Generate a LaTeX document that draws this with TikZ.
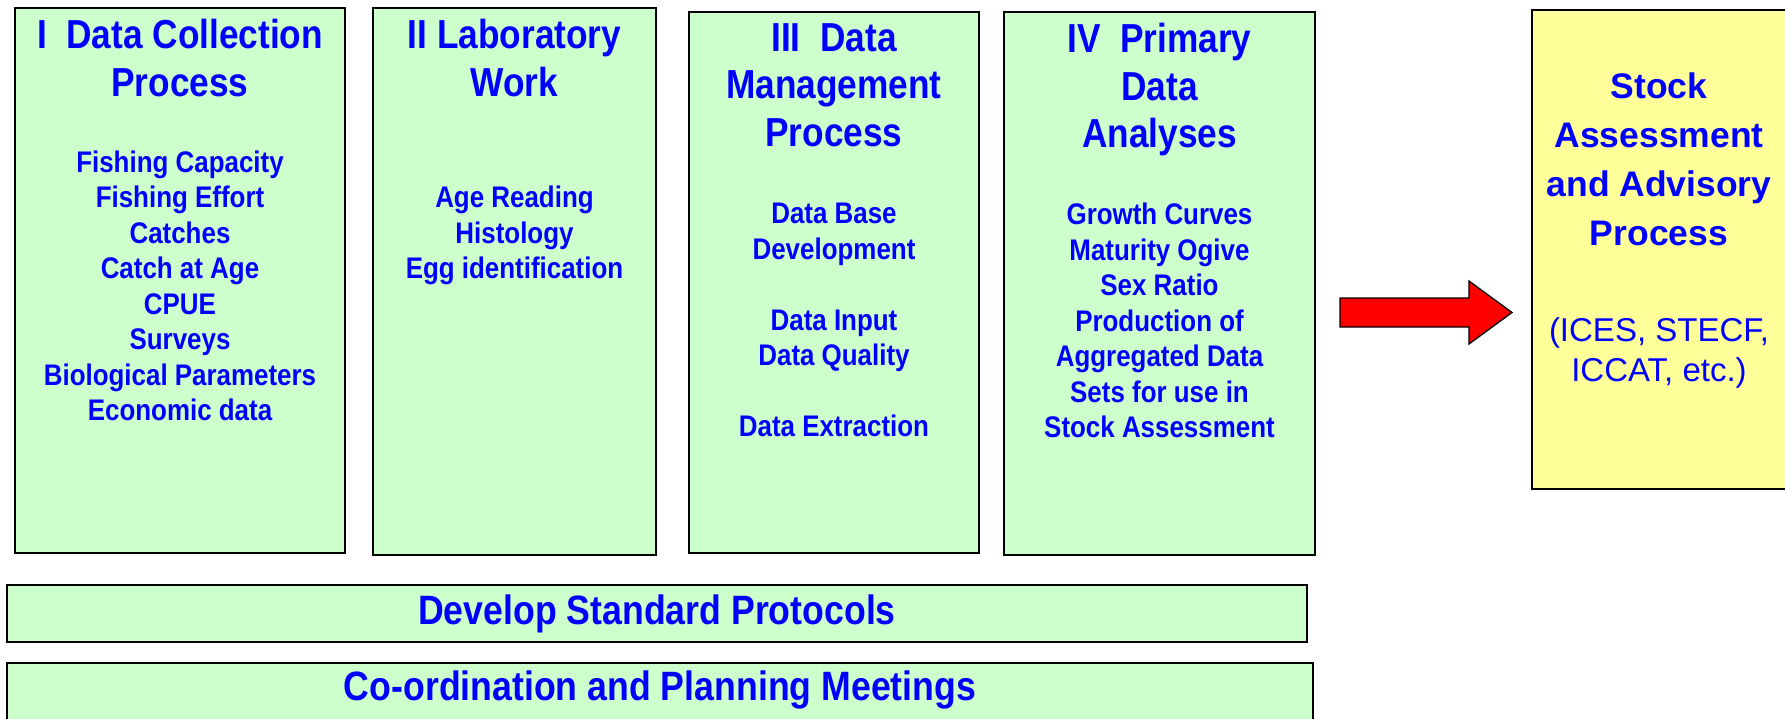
\documentclass[tikz,border=0pt]{standalone}
\usepackage{fontspec}
\setmainfont{Liberation Sans}
\newfontfamily\narrowsf[FakeStretch=0.87]{Liberation Sans}
\usepackage{tikz}

\definecolor{boxgreen}{HTML}{CCFFCC}
\definecolor{boxyellow}{HTML}{FFFF99}
\definecolor{textblue}{HTML}{0000FF}

\begin{document}
\begin{tikzpicture}[
  x=1pt, y=-1pt,
  every node/.style={align=center, text=textblue},
  stagebox/.style={rectangle, draw=black, line width=1.3pt, fill=boxgreen, inner sep=0pt},
  advicebox/.style={stagebox, fill=boxyellow},
  headtext/.style={inner sep=0pt, anchor=north, execute at begin node=\strut,
    font=\narrowsf\bfseries\fontsize{40.5}{47.6}\selectfont},
  listtext/.style={headtext, font=\narrowsf\bfseries\fontsize{29.8}{35.5}\selectfont},
  bartext/.style={headtext, font=\narrowsf\bfseries\fontsize{41}{49}\selectfont},
  advicehead/.style={headtext, font=\bfseries\fontsize{35.5}{49}\selectfont},
  advicetext/.style={headtext, font=\fontsize{33}{40}\selectfont},
  flowarrow/.style={draw=black, line width=1.3pt, fill=red, line join=miter}
]
\useasboundingbox (0,0) rectangle (1785,719);

% the four stages
\node[stagebox, minimum width=330pt, minimum height=545pt] (collect) at (180,280.5) {};
\node[stagebox, minimum width=283pt, minimum height=547pt] (lab) at (514.5,281.5) {};
\node[stagebox, minimum width=290pt, minimum height=541pt] (manage) at (834,282.5) {};
\node[stagebox, minimum width=311pt, minimum height=543pt] (analyse) at (1159.5,283.5) {};

\node[headtext] (collect-head) at (180,19.4) {I\ \ Data Collection\\Process};
\node[listtext] (collect-list) at (180,150.6) {Fishing Capacity\\Fishing Effort\\Catches\\Catch at Age\\CPUE\\Surveys\\Biological Parameters\\Economic data};

\node[headtext] (lab-head) at (514.5,19.4) {II Laboratory\\Work};
\node[listtext] (lab-list) at (514.5,186.1) {Age Reading\\Histology\\Egg identification};

\node[headtext] (manage-head) at (834,23.2) {III\ \ Data\\Management\\Process};
\node[listtext] (manage-list) at (834,203.1) {Data Base\\Development\\[35.5pt]Data Input\\Data Quality\\[35.5pt]Data Extraction};

\node[headtext] (analyse-head) at (1159.5,23.2) {IV\ \ Primary\\Data\\Analyses};
\node[listtext] (analyse-list) at (1159.5,203.1) {Growth Curves\\Maturity Ogive\\Sex Ratio\\Production of\\Aggregated Data\\Sets for use in\\Stock Assessment};

% assessment
\node[advicebox, minimum width=256pt, minimum height=479pt] (advice) at (1660,249.5) {};
\node[advicehead] (advice-head) at (1659,73) {Stock\\Assessment\\and Advisory\\Process};
\node[advicetext] (advice-list) at (1659,317) {(ICES, STECF,\\ICCAT, etc.)};

% block arrow towards the assessment
\coordinate (flow-tail) at (1340,312.5);
\coordinate (flow-tip) at (1512,312.5);
\draw[flowarrow] (flow-tail) ++(0,-14.5) -- ++(129,0) -- ++(0,-17) -- (flow-tip)
  -- ++(-43,31.5) -- ++(0,-17) -- ++(-129,0) -- cycle;

% bars underneath
\node[stagebox, minimum width=1300pt, minimum height=57pt] (protocols) at (657,613.5) {};
\node[bartext] (protocols-text) at (657,589.7) {Develop Standard Protocols};
\node[stagebox, minimum width=1306pt, minimum height=60pt] (meetings) at (660,693) {};
\node[bartext] (meetings-text) at (660,665.7) {Co-ordination and Planning Meetings};

\end{tikzpicture}
\end{document}
